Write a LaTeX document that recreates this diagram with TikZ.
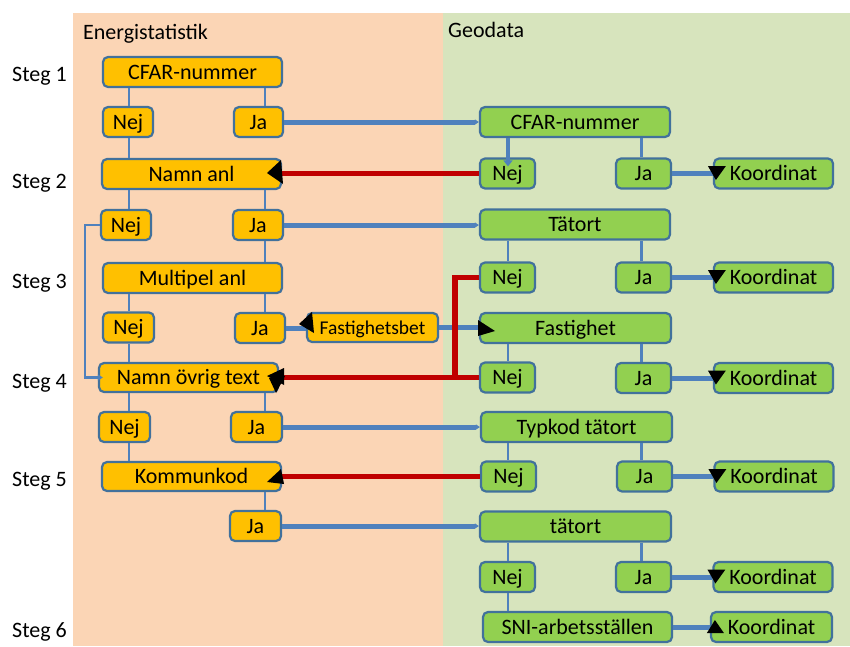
\documentclass[tikz,border=0pt]{standalone}
\usepackage{fontspec}
\setmainfont{Carlito}
\usetikzlibrary{arrows.meta,calc}
\definecolor{bordc}{HTML}{41719C}
\definecolor{linec}{HTML}{4F81BD}
\definecolor{orfill}{HTML}{FFC000}
\definecolor{grfill}{HTML}{92D050}
\definecolor{redc}{HTML}{C00000}
\definecolor{orbg}{HTML}{FBD5B5}
\definecolor{grbg}{HTML}{D7E4BD}
\begin{document}
\begin{tikzpicture}[x=1pt,y=-1pt,
  box/.style={draw=bordc, line width=2.2pt, rounded corners=5pt, inner sep=0pt,
    minimum height=30pt, font=\fontsize{22}{26}\selectfont, text height=17pt, text depth=3pt},
  obox/.style={box, fill=orfill},
  gbox/.style={box, fill=grfill, minimum width=55pt},
  kbox/.style={box, fill=grfill, minimum width=119pt},
  vline/.style={draw=linec, line width=2.6pt},
  hline/.style={draw=linec, line width=5pt},
  redline/.style={draw=redc, line width=5.5pt},
  lab/.style={font=\fontsize{22}{26}\selectfont, anchor=base west, inner sep=0pt},
  downtip/.pic={\fill[black] (-5,-7.5) -- (13,-7.5) -- (3,6.5) -- cycle;},
  uptip/.pic={\fill[black] (-3,6) -- (14,6) -- (5,-7) -- cycle;},
  smalltip/.style={-{Triangle[length=4pt,width=5pt]}}]
\useasboundingbox (0,0) rectangle (850,646);
\fill[white] (0,0) rectangle (850,646);
\fill[orbg] (73,13) rectangle (443,646);
\fill[grbg] (443,13) rectangle (850,646);

\node[lab] (tE) at (83,39) {Energistatistik};
\node[lab] (tG) at (448,37) {Geodata};
\node[lab] (s1) at (12,81) {Steg 1};
\node[lab] (s2) at (12,188) {Steg 2};
\node[lab] (s3) at (12,288) {Steg 3};
\node[lab] (s4) at (12,388) {Steg 4};
\node[lab] (s5) at (12,486) {Steg 5};
\node[lab] (s6) at (12,637) {Steg 6};

% left column
\node[obox, minimum width=179pt] (cfarL) at (192.5,72) {CFAR-nummer};
\node[obox, minimum width=50pt] (nej1) at (128,122) {Nej};
\node[obox, minimum width=49pt] (ja1) at (258.5,122) {Ja};
\node[obox, minimum width=179pt] (namnanl) at (191.5,174) {Namn anl};
\node[obox, minimum width=50pt] (nej2) at (126,225) {Nej};
\node[obox, minimum width=50pt] (ja2) at (258,225) {Ja};
\node[obox, minimum width=179pt] (multi) at (192.5,278) {Multipel anl};
\node[obox, minimum width=51pt] (nej3) at (128.5,327.5) {Nej};
\node[obox, minimum width=50pt] (ja3) at (260,328) {Ja};
\node[obox, minimum width=131pt, minimum height=29pt, font=\fontsize{19.5}{23}\selectfont] (fbet) at (372.5,327.5) {Fastighetsbet};
\node[obox, minimum width=179pt, minimum height=29pt] (novr) at (188.5,377.5) {Namn övrig text};
\node[obox, minimum width=51pt] (nej4) at (124.5,427) {Nej};
\node[obox, minimum width=51pt] (ja4) at (256.5,427) {Ja};
\node[obox, minimum width=179pt, minimum height=29pt] (kommun) at (191.5,476.5) {Kommunkod};
\node[obox, minimum width=51pt] (ja5) at (255.5,526) {Ja};

% right column
\node[gbox, minimum width=190pt] (cfarR) at (575,122) {CFAR-nummer};
\node[gbox] (nejR2) at (507.5,173.5) {Nej};
\node[gbox] (jaR2) at (643.5,173.5) {Ja};
\node[kbox] (koR2) at (773.5,173.5) {Koordinat};
\node[gbox, minimum width=190pt] (tat) at (575,224.5) {Tätort};
\node[gbox] (nejR3) at (507.5,277.5) {Nej};
\node[gbox] (jaR3) at (643.5,277.5) {Ja};
\node[kbox] (koR3) at (773.5,277.5) {Koordinat};
\node[gbox, minimum width=191pt] (fast) at (575.5,328) {Fastighet};
\node[gbox] (nejR4) at (507.5,377.5) {Nej};
\node[gbox] (jaR4) at (643.5,378) {Ja};
\node[kbox] (koR4) at (773.5,378) {Koordinat};
\node[gbox, minimum width=191pt] (typ) at (576.5,427) {Typkod tätort};
\node[gbox] (nejR5) at (508.5,476.5) {Nej};
\node[gbox] (jaR5) at (644.5,476.5) {Ja};
\node[kbox] (koR5) at (774,476.5) {Koordinat};
\node[gbox, minimum width=191pt] (tat2) at (575.5,526.5) {tätort};
\node[gbox] (nejR6) at (507.5,577) {Nej};
\node[gbox] (jaR6) at (643.5,577) {Ja};
\node[kbox] (koR6) at (773,577) {Koordinat};
\node[gbox, minimum width=189pt] (sni) at (577.5,627) {SNI-arbetsställen};
\node[kbox, minimum width=121pt] (koR7) at (771.5,627) {Koordinat};

\coordinate (colN) at (129,0);
\coordinate (colJ) at (265,0);
\coordinate (colRN) at (508,0);
\coordinate (colRJ) at (641.5,0);

% left verticals
\draw[vline] (cfarL.south -| colN) -- (nej1.north -| colN);
\draw[vline] (cfarL.south -| colJ) -- (ja1.north -| colJ);
\draw[vline] (nej1.south -| colN) -- (namnanl.north -| colN);
\draw[vline] (namnanl.south -| colN) -- (nej2.north -| colN);
\draw[vline] (namnanl.south -| colJ) -- (ja2.north -| colJ);
\draw[vline] (ja2.south -| colJ) -- (multi.north -| colJ);
\draw[vline] (multi.south -| colN) -- (nej3.north -| colN);
\draw[vline] (multi.south -| colJ) -- (ja3.north -| colJ);
\draw[vline] (nej3.south -| colN) -- (novr.north -| colN);
\draw[vline] (novr.south -| colN) -- (nej4.north -| colN);
\draw[vline] (novr.south -| colJ) -- (ja4.north -| colJ);
\draw[vline] (nej4.south -| colN) -- (kommun.north -| colN);
\draw[vline] (kommun.south -| colJ) -- (ja5.north -| colJ);
\draw[vline, -{Triangle[length=5pt,width=6pt]}] (nej2.west) -- ++(-15,0) |- ($(novr.west)+(5,0)$);

% right verticals
\draw[draw=linec, line width=4pt, -{Triangle[length=6pt,width=9pt]}] (cfarR.south -| colRN) -- ($(nejR2.north -| colRN)+(0,9)$);
\draw[vline] (cfarR.south -| colRJ) -- (jaR2.north -| colRJ);
\draw[vline] (tat.south -| colRN) -- (nejR3.north -| colRN);
\draw[vline] (tat.south -| colRJ) -- (jaR3.north -| colRJ);
\draw[vline] (fast.south -| colRN) -- (nejR4.north -| colRN);
\draw[vline] (fast.south -| colRJ) -- (jaR4.north -| colRJ);
\draw[vline] (typ.south -| colRN) -- (nejR5.north -| colRN);
\draw[vline] (typ.south -| colRJ) -- (jaR5.north -| colRJ);
\draw[vline] (tat2.south -| colRN) -- (nejR6.north -| colRN);
\draw[vline] (tat2.south -| colRJ) -- (jaR6.north -| colRJ);
\draw[vline] (nejR6.south -| colRN) -- (sni.north -| colRN);

% thick blue horizontals
\draw[hline, smalltip] (ja1.east) -- (ja1.east -| cfarR.west);
\draw[hline, smalltip] (ja2.east) -- (ja2.east -| tat.west);
\draw[hline, smalltip] (ja4.east) -- (ja4.east -| typ.west);
\draw[hline, smalltip] (ja5.east) -- (ja5.east -| tat2.west);
\draw[hline] (ja3.east) -- (ja3.east -| fbet.west);
\draw[hline] (fbet.east) -- (fbet.east -| fast.west);
\draw[hline] (jaR2.east) -- (jaR2.east -| koR2.west);
\draw[hline] (jaR3.east) -- (jaR3.east -| koR3.west);
\draw[hline] (jaR4.east) -- (jaR4.east -| koR4.west);
\draw[hline] (jaR5.east) -- (jaR5.east -| koR5.west);
\draw[hline] (jaR6.east) -- (jaR6.east -| koR6.west);
\draw[hline] (sni.east) -- (sni.east -| koR7.west);

% red lines
\draw[redline] (nejR2.west) -- (nejR2.west -| namnanl.east);
\draw[redline] (nejR3.west) -- ++(-24,0) |- (novr.east);
\draw[redline] (nejR4.west) -- (nejR4.west -| novr.east);
\draw[redline] (nejR5.west) -- (nejR5.west -| kommun.east);

% big arrowheads
\fill[black] (267,173) -- (281,160) -- (283,184) -- cycle;
\fill[black] (267,376) -- (284,368) -- (284,385) -- cycle;
\fill[black] (269,378) -- (285,376) -- (276,393) -- cycle;
\fill[black] (267,482) -- (281,469) -- (284,484) -- cycle;
\fill[black] (299,324) -- (312,312) -- (314,333) -- cycle;
\fill[black] (478,320) -- (478,336) -- (495,331) -- cycle;
\pic at (koR2.west) {downtip};
\pic at (koR3.west) {downtip};
\pic at (koR4.west) {downtip};
\pic at (koR5.west) {downtip};
\pic at (koR6.west) {downtip};
\pic at (koR7.west) {uptip};
\end{tikzpicture}
\end{document}
